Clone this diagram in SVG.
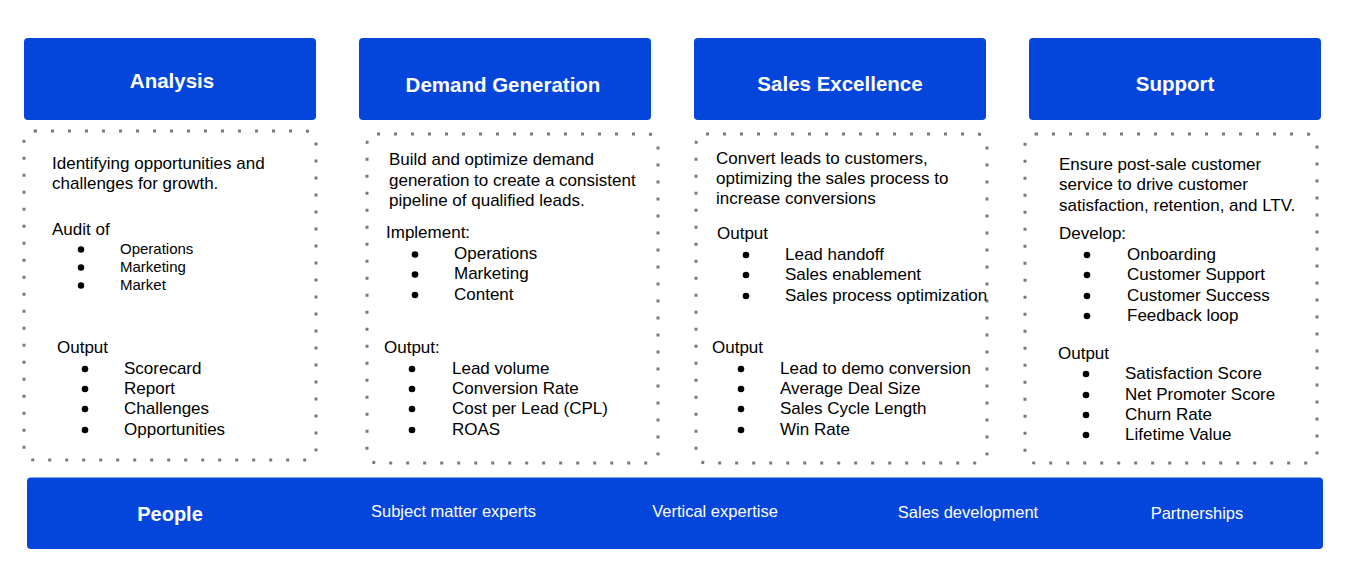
<svg xmlns="http://www.w3.org/2000/svg" width="1346" height="582" viewBox="0 0 1346 582">
<style>
.hdr{fill:#0446DB}
.dot{fill:none;stroke:#7a7a7a;stroke-width:3;stroke-dasharray:3 14}
.t{font-family:"Liberation Sans",Arial,sans-serif;font-size:17px;fill:#000}
.s{font-family:"Liberation Sans",Arial,sans-serif;font-size:15px;fill:#000}
.h{font-family:"Liberation Sans",Arial,sans-serif;font-size:20.5px;font-weight:bold;fill:#fff;text-anchor:middle}
.p{font-family:"Liberation Sans",Arial,sans-serif;font-size:16.5px;fill:#fff;text-anchor:middle}
.b{fill:#000}
</style>
<rect width="1346" height="582" fill="#fff"/>

<g id="analysis">
<rect class="hdr" x="24" y="38" width="292" height="82" rx="4"/>
<text class="h" x="172" y="88">Analysis</text>
<rect class="dot" x="24" y="131" width="292" height="329" rx="10"/>
<text class="t" x="52" y="169">Identifying opportunities and</text>
<text class="t" x="52" y="189">challenges for growth.</text>
<text class="t" x="52" y="235">Audit of</text>
<circle class="b" cx="81" cy="249.5" r="3.2"/><text class="s" x="120" y="254">Operations</text>
<circle class="b" cx="81" cy="267.5" r="3.2"/><text class="s" x="120" y="272">Marketing</text>
<circle class="b" cx="81" cy="285.5" r="3.2"/><text class="s" x="120" y="290">Market</text>
<text class="t" x="57" y="353">Output</text>
<circle class="b" cx="85" cy="369" r="3.3"/><text class="t" x="124" y="374">Scorecard</text>
<circle class="b" cx="85" cy="389" r="3.3"/><text class="t" x="124" y="394">Report</text>
<circle class="b" cx="85" cy="409" r="3.3"/><text class="t" x="124" y="414">Challenges</text>
<circle class="b" cx="85" cy="430" r="3.3"/><text class="t" x="124" y="434.5">Opportunities</text>
</g>

<g id="demand-generation">
<rect class="hdr" x="359" y="38" width="292" height="82" rx="4"/>
<text class="h" x="503" y="91.5">Demand Generation</text>
<rect class="dot" x="367" y="134" width="291" height="329" rx="10"/>
<text class="t" x="389" y="165">Build and optimize demand</text>
<text class="t" x="389" y="185.5">generation to create a consistent</text>
<text class="t" x="389" y="206">pipeline of qualified leads.</text>
<text class="t" x="386" y="238">Implement:</text>
<circle class="b" cx="415" cy="254.5" r="3.3"/><text class="t" x="454" y="259">Operations</text>
<circle class="b" cx="415" cy="274.5" r="3.3"/><text class="t" x="454" y="279">Marketing</text>
<circle class="b" cx="415" cy="295" r="3.3"/><text class="t" x="454" y="300">Content</text>
<text class="t" x="384" y="353">Output:</text>
<circle class="b" cx="412" cy="369" r="3.3"/><text class="t" x="452" y="374">Lead volume</text>
<circle class="b" cx="412" cy="389" r="3.3"/><text class="t" x="452" y="394">Conversion Rate</text>
<circle class="b" cx="412" cy="409" r="3.3"/><text class="t" x="452" y="414">Cost per Lead (CPL)</text>
<circle class="b" cx="412" cy="430" r="3.3"/><text class="t" x="452" y="435">ROAS</text>
</g>

<g id="sales-excellence">
<rect class="hdr" x="694" y="38" width="292" height="82" rx="4"/>
<text class="h" x="840" y="91">Sales Excellence</text>
<rect class="dot" x="696" y="134" width="291" height="329" rx="10"/>
<text class="t" x="716" y="163.5">Convert leads to customers,</text>
<text class="t" x="716" y="184">optimizing the sales process to</text>
<text class="t" x="716" y="204">increase conversions</text>
<text class="t" x="717" y="239">Output</text>
<circle class="b" cx="746" cy="255" r="3.3"/><text class="t" x="785" y="260">Lead handoff</text>
<circle class="b" cx="746" cy="275" r="3.3"/><text class="t" x="785" y="280">Sales enablement</text>
<circle class="b" cx="746" cy="296" r="3.3"/><text class="t" x="785" y="301">Sales process optimization</text>
<text class="t" x="712" y="353">Output</text>
<circle class="b" cx="741" cy="369" r="3.3"/><text class="t" x="780" y="374">Lead to demo conversion</text>
<circle class="b" cx="741" cy="389" r="3.3"/><text class="t" x="780" y="394">Average Deal Size</text>
<circle class="b" cx="741" cy="409" r="3.3"/><text class="t" x="780" y="414">Sales Cycle Length</text>
<circle class="b" cx="741" cy="430" r="3.3"/><text class="t" x="780" y="435">Win Rate</text>
</g>

<g id="support">
<rect class="hdr" x="1029" y="38" width="292" height="82" rx="4"/>
<text class="h" x="1175" y="91">Support</text>
<rect class="dot" x="1025" y="134" width="292" height="329" rx="10"/>
<text class="t" x="1059" y="169.5">Ensure post-sale customer</text>
<text class="t" x="1059" y="190">service to drive customer</text>
<text class="t" x="1059" y="210.5">satisfaction, retention, and LTV.</text>
<text class="t" x="1059" y="238.5">Develop:</text>
<circle class="b" cx="1087" cy="255" r="3.3"/><text class="t" x="1127" y="260">Onboarding</text>
<circle class="b" cx="1087" cy="275" r="3.3"/><text class="t" x="1127" y="280">Customer Support</text>
<circle class="b" cx="1087" cy="296" r="3.3"/><text class="t" x="1127" y="301">Customer Success</text>
<circle class="b" cx="1087" cy="316" r="3.3"/><text class="t" x="1127" y="321">Feedback loop</text>
<text class="t" x="1058" y="358.5">Output</text>
<circle class="b" cx="1086" cy="374" r="3.3"/><text class="t" x="1125" y="379">Satisfaction Score</text>
<circle class="b" cx="1086" cy="395" r="3.3"/><text class="t" x="1125" y="400">Net Promoter Score</text>
<circle class="b" cx="1086" cy="415" r="3.3"/><text class="t" x="1125" y="420">Churn Rate</text>
<circle class="b" cx="1086" cy="435" r="3.3"/><text class="t" x="1125" y="440">Lifetime Value</text>
</g>

<g id="people">
<rect class="hdr" x="27" y="477.5" width="1296" height="71.5" rx="4"/>
<text class="h" x="170" y="521" style="font-size:20px">People</text>
<text class="p" x="453.5" y="517">Subject matter experts</text>
<text class="p" x="715" y="517">Vertical expertise</text>
<text class="p" x="968" y="518">Sales development</text>
<text class="p" x="1197" y="519">Partnerships</text>
</g>

<g id="connectors"/>
</svg>
